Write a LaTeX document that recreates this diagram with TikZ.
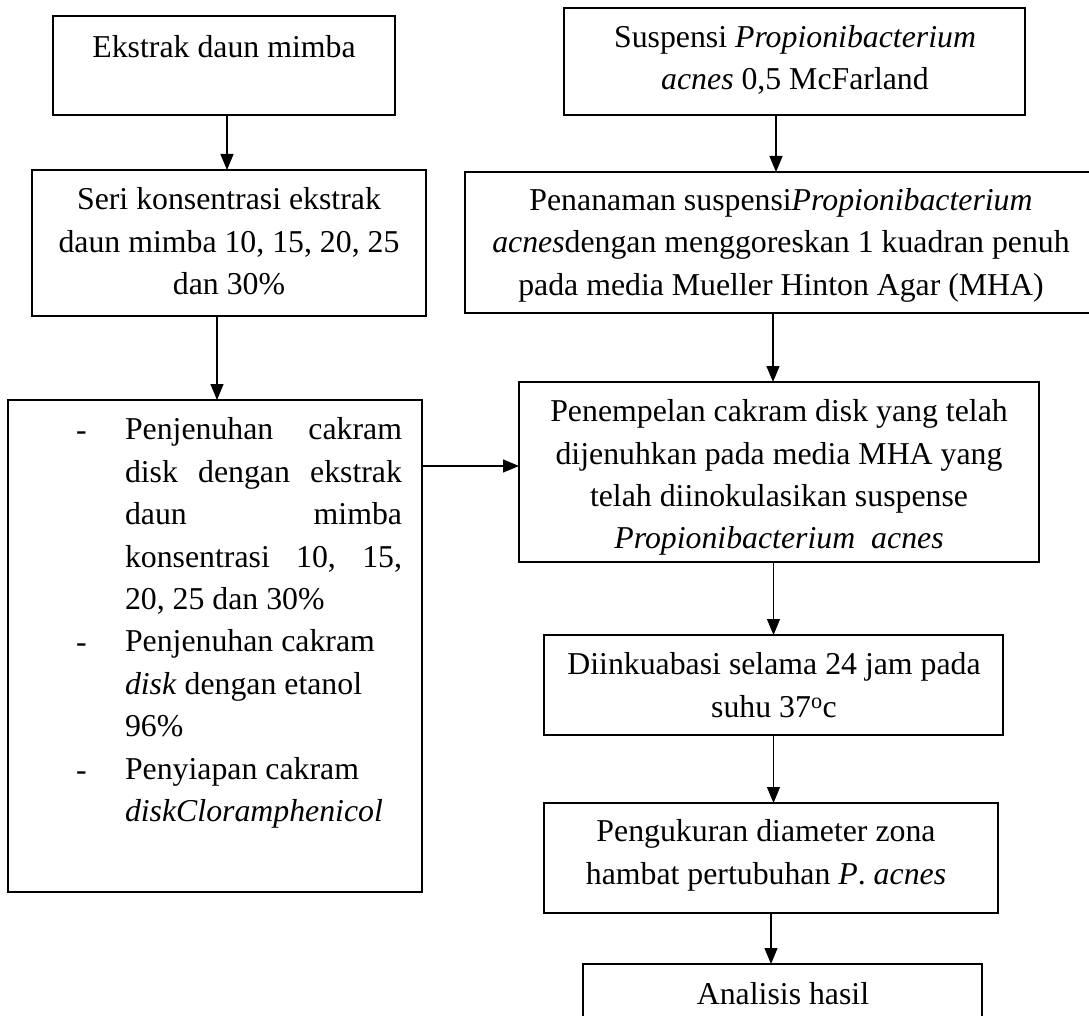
\documentclass[tikz,border=0pt]{standalone}
\usepackage{fontspec}
\setmainfont{Liberation Serif}
\usetikzlibrary{arrows.meta}
\begin{document}
\begin{tikzpicture}[x=1pt,y=-1pt,
  box/.style={draw, line width=1.3pt, inner sep=0pt, outer sep=0pt},
  txt/.style={inner sep=0pt, outer sep=0pt, align=center, anchor=north, font=\fontsize{31.8}{42.4}\selectfont},
  arr/.style={line width=1.3pt, -{Triangle[length=16pt,width=13pt]}}]
\useasboundingbox (0,0) rectangle (1089,1016);
\fill[white] (0,0) rectangle (1089,1016);
\clip (0,0) rectangle (1089,1016);

% boxes
\node[box, minimum width=342pt, minimum height=99pt]  (b1) at (224,65.5) {};
\node[box, minimum width=461pt, minimum height=107pt] (b2) at (794.5,61.5) {};
\node[box, minimum width=394pt, minimum height=146pt] (b3) at (229,243) {};
\node[box, minimum width=632pt, minimum height=141pt] (b4) at (781,242.5) {};
\node[box, minimum width=414pt, minimum height=492pt] (b5) at (215,646) {};
\node[box, minimum width=520pt, minimum height=180pt] (b6) at (779,472) {};
\node[box, minimum width=459pt, minimum height=100pt] (b7) at (773.5,685) {};
\node[box, minimum width=454pt, minimum height=110pt] (b8) at (771,858) {};
\node[box, minimum width=399pt, minimum height=86pt]  (b9) at (782.5,1007) {};

% texts
\node[txt] (t1) at (224,28.3) {\strut Ekstrak daun mimba};
\node[txt] (t2) at (795,17.5) {\strut Suspensi \textit{Propionibacterium}\\ \textit{acnes} 0,5 McFarland};
\node[txt] (t3) at (229,180.3) {\strut Seri konsentrasi ekstrak\\ daun mimba 10, 15, 20, 25\\ dan 30\%};
\node[txt] (t4) at (781,180.8) {\strut Penanaman suspensi\textit{Propionibacterium}\\ \textit{acnes}dengan menggoreskan 1 kuadran penuh\\ pada media Mueller Hinton Agar (MHA)};
\node[txt] (t6) at (779,392) {\strut Penempelan cakram disk yang telah\\ dijenuhkan pada media MHA yang\\ telah diinokulasikan suspense\\ \textit{Propionibacterium}\hspace{16pt}\textit{acnes}};
\node[txt] (t7) at (774,645.3) {\strut Diinkuabasi selama 24 jam pada\\ suhu 37\textsuperscript{o}c};
\node[txt] (t8) at (766,812.3) {\strut Pengukuran diameter zona\\ hambat pertubuhan \textit{P}. \textit{acnes}};
\node[txt] (t9) at (783,975.3) {\strut Analisis hasil};

% list box
\node[txt, align=left, anchor=north west] (l1) at (125,410.3) {\hbox to 277pt{\strut Penjenuhan\hfill cakram}\\
\hbox to 277pt{disk\hfill dengan\hfill ekstrak}\\
\hbox to 277pt{daun\hfill mimba}\\
\hbox to 277pt{konsentrasi\hfill 10,\hfill 15,}\\
20, 25 dan 30\%\\
Penjenuhan cakram\\
\textit{disk} dengan etanol\\
96\%\\
Penyiapan cakram\\
\textit{diskCloramphenicol}};
\node[txt, anchor=base west] (d1) at (76,440) {-};
\node[txt, anchor=base west] (d2) at (76,652) {-};
\node[txt, anchor=base west] (d3) at (76,780) {-};

% connectors
\coordinate (a1) at ([xshift=3pt]b1.south);
\draw[arr] (a1) -- (a1 |- b3.north);
\coordinate (a2) at ([xshift=2pt]b5.north);
\draw[arr] (a2 |- b3.south) -- (a2);
\coordinate (a3) at ([xshift=-18.5pt]b2.south);
\draw[arr] (a3) -- (a3 |- b4.north);
\coordinate (a4) at ([xshift=-6pt]b6.north);
\draw[arr] (a4 |- b4.south) -- (a4);
\coordinate (a5) at ([yshift=6pt]b6.west);
\draw[arr] (a5 -| b5.east) -- (a5);
\draw[arr] (b7.north |- b6.south) -- (b7.north);
\coordinate (a7) at ([xshift=2.5pt]b8.north);
\draw[arr] (a7 |- b7.south) -- (a7);
\draw[arr] (b8.south) -- (b8.south |- b9.north);
\end{tikzpicture}
\end{document}
